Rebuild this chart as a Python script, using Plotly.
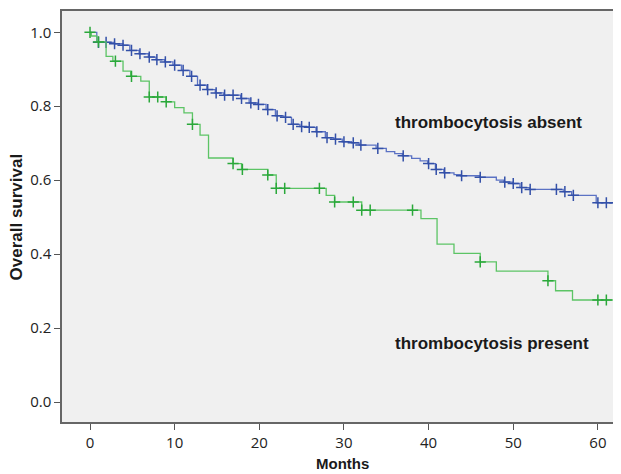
import numpy as np
import plotly.graph_objects as go

# ---- data (Kaplan-Meier estimates) ----
# thrombocytosis absent
absent_event_times = [0.8, 2.9, 3.9, 4.7, 5.8, 6.9, 7.8, 8.8, 9.8, 10.8, 11.8, 12.7, 13.8, 14.8,
                      15.8, 17.8, 18.8, 19.8, 20.8, 21.9, 22.9, 23.8, 24.8, 25.8, 26.7, 27.8,
                      28.8, 29.8, 30.9, 31.8, 33.8, 35.0, 36.0, 36.9, 38.0, 39.0, 39.9, 40.8,
                      41.8, 43.0, 43.8, 46.0, 48.0, 48.9, 49.9, 50.8, 51.9, 55.9, 56.9, 59.8]
absent_surv = [0.973, 0.969, 0.965, 0.951, 0.942, 0.933, 0.926, 0.920, 0.911, 0.897, 0.881,
               0.857, 0.845, 0.836, 0.830, 0.821, 0.809, 0.805, 0.791, 0.774, 0.770, 0.751,
               0.745, 0.743, 0.731, 0.715, 0.711, 0.704, 0.701, 0.695, 0.686, 0.677, 0.672,
               0.666, 0.659, 0.652, 0.645, 0.629, 0.620, 0.615, 0.612, 0.608, 0.600, 0.595,
               0.591, 0.580, 0.575, 0.569, 0.559, 0.539]
absent_censor_times = [1.0, 1.9, 2.9, 3.9, 4.9, 5.9, 7.0, 7.9, 8.9, 10.0, 11.0, 12.0, 13.0,
                       13.9, 14.9, 15.9, 16.9, 17.9, 19.0, 19.9, 21.0, 22.1, 23.1, 24.0, 25.0,
                       25.9, 26.8, 28.0, 29.0, 30.0, 31.1, 32.0, 34.0, 37.0, 40.0, 40.9, 41.9,
                       43.9, 46.1, 49.0, 50.0, 51.0, 52.0, 55.1, 56.1, 57.1, 60.0, 61.0, 62.0]

# thrombocytosis present
present_event_times = [0.15, 0.8, 1.9, 2.7, 3.9, 4.8, 6.0, 7.0, 9.0, 10.0, 11.1, 12.1, 13.0,
                       14.0, 16.9, 17.9, 21.0, 22.0, 27.9, 28.9, 32.1, 39.1, 41.0, 43.0,
                       46.1, 48.0, 54.1, 55.0, 57.0]
present_surv = [0.990, 0.974, 0.935, 0.922, 0.895, 0.881, 0.868, 0.825, 0.812, 0.796, 0.782,
                0.751, 0.722, 0.660, 0.645, 0.629, 0.614, 0.578, 0.559, 0.541, 0.519, 0.496,
                0.427, 0.402, 0.379, 0.354, 0.328, 0.301, 0.276]
present_censor_times = [0.0, 1.0, 3.0, 4.9, 7.0, 8.0, 9.0, 12.1, 16.9, 18.0, 21.0, 22.0, 23.0,
                        27.1, 28.9, 31.1, 32.1, 33.1, 38.1, 46.1, 54.1, 60.0, 61.0]

x_ticks = [0, 10, 20, 30, 40, 50, 60]
y_ticks = [0.0, 0.2, 0.4, 0.6, 0.8, 1.0]
y_tick_labels = ["0.0", "0.2", "0.4", "0.6", "0.8", "1.0"]
follow_up_end = 70

def km_path(times, surv, end):
    xs = [0.0] + list(times) + [end]
    ys = [1.0] + list(surv) + [surv[-1]]
    return xs, ys

def surv_at(times, surv, t):
    full = np.concatenate([[1.0], np.asarray(surv)])
    idx = np.searchsorted(np.asarray(times), np.asarray(t), side="right")
    return full[idx]

groups = [
    ("thrombocytosis absent", absent_event_times, absent_surv, absent_censor_times,
     "#5b72c4", "#3350a8"),
    ("thrombocytosis present", present_event_times, present_surv, present_censor_times,
     "#5cc465", "#2aa83a"),
]

fig = go.Figure()
for name, et, sv, ct, lc, mc in groups:
    xs, ys = km_path(et, sv, follow_up_end)
    fig.add_trace(go.Scatter(x=xs, y=ys, mode="lines", line=dict(color=lc, width=1.3, shape="hv"),
                             name=name, showlegend=False, hoverinfo="skip"))
    fig.add_trace(go.Scatter(x=ct, y=surv_at(et, sv, ct), mode="markers",
                             marker=dict(symbol="cross-thin", size=8,
                                         line=dict(color=mc, width=1.5)),
                             showlegend=False, hoverinfo="skip"))

label_font = dict(family="Liberation Sans, Arial", size=17, color="#1a1a1a")
fig.add_annotation(x=35.8, y=0.757, xanchor="left", yanchor="middle",
                   text="<b>thrombocytosis absent</b>", showarrow=False, font=label_font)
fig.add_annotation(x=35.8, y=0.159, xanchor="left", yanchor="middle",
                   text="<b>thrombocytosis present</b>", showarrow=False, font=label_font)

# axis titles placed in data/paper terms (x centre of the visible plot is ~30.8 months)
fig.add_annotation(xref="x", yref="paper", x=29.8, y=-0.0998, xanchor="center",
                   yanchor="middle", text="<b>Months</b>", showarrow=False,
                   font=dict(family="Liberation Sans, Arial", size=15, color="#1a1a1a"))
fig.add_annotation(xref="paper", yref="paper", x=-0.0768, y=0.5, xanchor="center",
                   yanchor="middle", text="<b>Overall survival</b>", textangle=-90,
                   showarrow=False,
                   font=dict(family="Liberation Sans, Arial", size=17, color="#1a1a1a"))

axis_font = dict(family="Open Sans, Liberation Sans", size=15, color="#222")
# page body has an 8px margin: size the figure so the plot lands where the reference has it;
# the plot runs past the right window edge, as in the (cropped) reference
fig.update_layout(
    width=640, height=466,
    margin=dict(l=54, r=0, t=3, b=52),
    paper_bgcolor="white", plot_bgcolor="#f0f0f0",
    font=axis_font,
    xaxis=dict(range=[-3.31, 65.92], tickvals=x_ticks, ticks="outside", ticklen=6,
               tickwidth=1.3, tickcolor="#555", showline=True, linecolor="#666",
               linewidth=1.5, mirror=True, showgrid=False, zeroline=False,
               automargin=False),
    yaxis=dict(range=[-0.054, 1.0576], tickvals=y_ticks, ticktext=y_tick_labels,
               ticks="outside", ticklen=6, tickwidth=1.3, tickcolor="#555", showline=True,
               linecolor="#666", linewidth=1.5, showgrid=False, zeroline=False,
               automargin=False),
)

fig.write_html("out.html")
